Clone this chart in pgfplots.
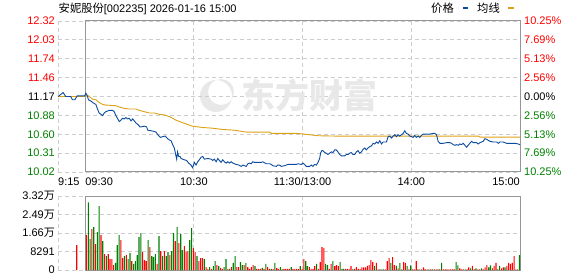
\documentclass[border=0pt]{standalone}
\usepackage{pgfplots}
\pgfplotsset{compat=1.18}
\usepackage{fontspec}
\setmainfont{Liberation Sans}
\newfontfamily\cjk{Noto Sans CJK SC}
\definecolor{pblue}{RGB}{10,75,160}
\definecolor{porange}{RGB}{222,160,20}
\definecolor{ured}{RGB}{255,0,0}
\definecolor{dgreen}{RGB}{0,128,0}
\definecolor{gridc}{RGB}{205,205,205}
\definecolor{framec}{RGB}{150,150,150}
\definecolor{wmark}{RGB}{232,232,232}
\begin{document}
\begin{tikzpicture}[x=1pt,y=1pt]
\useasboundingbox (0,0) rectangle (578,276);
\fontsize{11}{13}\selectfont
% title and legend
\node[anchor=base west,inner sep=0pt] at (58.5,263) {{\cjk\fontsize{11.3}{13}\selectfont 安妮股份}[002235] 2026-01-16 15:00};
\node[anchor=base west,inner sep=0pt] at (431,263) {\cjk\fontsize{11.3}{13}\selectfont 价格};
\fill[pblue] (462.5,266.6) rectangle (468,269);
\node[anchor=base west,inner sep=0pt] at (477,263) {\cjk\fontsize{11.3}{13}\selectfont 均线};
\fill[porange] (508,266.6) rectangle (513.5,269);
% watermark icon
\fill[wmark, even odd rule] (216,180) circle (16) (221,184) circle (13);
% ---------------- price axis
\begin{axis}[at={(58pt,104pt)}, anchor=south west, scale only axis,
  width=462pt, height=151pt,
  xmin=-15, xmax=240, ymin=10.025, ymax=12.315,
  axis line style={draw=none},
  xtick={-15,60,120,180}, xticklabels={},
  ytick={10.025,10.31125,10.5975,10.88375,11.17,11.45625,11.7425,12.02875,12.315},
  yticklabels={},
  major tick length=0pt,
  grid=major,
  major grid style={gridc, dash pattern=on 4pt off 3pt, line width=0.9pt},
  clip=false]
\node[text=wmark, font=\cjk\bfseries\fontsize{34}{34}\selectfont, anchor=center] at (axis cs:124,11.18) {东方财富};
\draw[framec, line width=1pt] (axis cs:0,10.025) rectangle (axis cs:240,12.315);
% average line
\addplot[porange, line width=0.9pt] coordinates {
(-15,11.17) (-0.3,11.17) (0,11.19) (1.3,11.19) (2.2,11.17) (4.1,11.13) (5.9,11.12) (7.7,11.08) (9.6,11.05) (11.4,11.04) (17.0,11.03) (18.8,11.01) (21.6,10.99) (24.3,10.98) (28.0,10.98) (29.9,10.96) (32.6,10.94) (35.4,10.92) (38.2,10.92) (40.9,10.90) (43.7,10.89) (47,10.86) (50.2,10.81) (55,10.76) (59.2,10.72) (64.7,10.70) (70,10.69) (75.9,10.67) (82,10.66) (88.9,10.63) (95,10.63) (101.8,10.63) (102.7,10.61) (117.4,10.61) (128.5,10.575) (137.7,10.57) (216.8,10.57) (217.9,10.555) (240,10.555)
};
% price line
\addplot[pblue, line width=0.9pt] coordinates {
(-15,11.17) (-13.5,11.20) (-12.2,11.23) (-10.7,11.17) (-8,11.17) (-7,11.12) (-5.7,11.12) (-4.4,11.18) (-0.3,11.18) (0.4,11.22) (1.3,11.17) (1.8,11.12) (3.2,11.10) (4.6,11.07) (5.9,11.05) (6.8,10.98) (7.7,10.92) (8.7,10.90) (9.6,10.88) (10.5,10.92) (11.4,10.94) (13.3,10.96) (15.1,10.96) (16.0,10.94) (17.0,10.88) (18.8,10.79) (19.7,10.81) (20.6,10.84) (21.6,10.83) (22.5,10.85) (23.4,10.83) (24.3,10.84) (25.3,10.80) (26.2,10.83) (27.1,10.80) (28.0,10.77) (29.3,10.74) (30.2,10.71) (31.1,10.71) (32.6,10.72) (33.9,10.71) (34.5,10.66) (36.3,10.65) (38.2,10.64) (39.1,10.63) (40.4,10.58) (41.5,10.55) (42.7,10.56) (44.2,10.57) (45.5,10.53) (46.5,10.51) (47.4,10.50) (48.3,10.44) (49.2,10.39) (49.8,10.31) (50.5,10.22) (51.0,10.33) (51.6,10.26) (52.4,10.26) (52.9,10.23) (54.7,10.21) (56.0,10.20) (57.1,10.16) (58.4,10.13) (59.3,10.09) (60.3,10.17) (61.2,10.13) (62.1,10.18) (63.0,10.21) (64.0,10.25) (64.9,10.26) (65.8,10.22) (67.6,10.23) (69.5,10.22) (70.4,10.20) (71.3,10.22) (72.3,10.18) (73.2,10.23) (74.1,10.20) (75.0,10.17) (75.9,10.21) (76.9,10.18) (77.8,10.16) (78.7,10.18) (79.6,10.16) (80.6,10.18) (81.5,10.16) (82.4,10.15) (83.3,10.14) (84.8,10.13) (86.1,10.11) (87.0,10.13) (87.9,10.12) (88.9,10.11) (89.8,10.15) (90.7,10.16) (91.6,10.15) (92.5,10.18) (93.5,10.17) (95.3,10.17) (97.2,10.17) (98.0,10.18) (99.9,10.15) (101.8,10.15) (102.7,10.14) (103.5,10.12) (105.5,10.11) (106.3,10.13) (107.3,10.13) (108.2,10.11) (110.0,10.12) (111.9,10.14) (116.5,10.14) (117.4,10.15) (119.3,10.14) (120.2,10.16) (121.1,10.14) (122.0,10.11) (123.9,10.11) (124.8,10.13) (125.7,10.11) (126.6,10.14) (127.6,10.13) (128.5,10.17) (129.4,10.23) (130.0,10.32) (130.7,10.35) (131.2,10.35) (132.2,10.32) (133.1,10.31) (134.0,10.29) (134.9,10.31) (135.9,10.33) (136.8,10.32) (137.7,10.36) (138.6,10.36) (139.5,10.33) (140.5,10.29) (141.4,10.27) (143.2,10.27) (144.2,10.29) (145.1,10.29) (146.0,10.31) (146.9,10.32) (147.8,10.29) (148.8,10.29) (149.7,10.33) (150.6,10.35) (151.5,10.31) (152.5,10.33) (153.4,10.37) (154.3,10.39) (155.2,10.36) (156.1,10.39) (157.1,10.41) (158.0,10.42) (158.9,10.46) (159.8,10.45) (160.8,10.48) (161.7,10.46) (162.6,10.50) (163.5,10.45) (164.4,10.48) (166.3,10.48) (167.2,10.56) (168.1,10.57) (169.1,10.54) (170.0,10.57) (170.9,10.59) (171.8,10.56) (172.7,10.59) (173.6,10.57) (174.6,10.59) (175.5,10.61) (176.4,10.65) (177.3,10.61) (178.2,10.60) (179.2,10.57) (180.1,10.56) (181.0,10.55) (181.9,10.58) (182.8,10.55) (183.8,10.57) (184.7,10.55) (185.6,10.58) (186.5,10.60) (189.3,10.60) (190.2,10.60) (192.1,10.61) (193.0,10.61) (193.9,10.59) (194.8,10.49) (195.8,10.46) (197.6,10.46) (199.5,10.47) (201.3,10.47) (202.2,10.46) (203.1,10.44) (204.1,10.43) (205.0,10.44) (205.9,10.43) (206.8,10.45) (207.7,10.44) (208.7,10.46) (209.6,10.43) (210.5,10.40) (211.4,10.43) (212.3,10.46) (213.3,10.49) (214.2,10.47) (216.0,10.47) (216.9,10.45) (217.9,10.47) (219.7,10.49) (220.6,10.53) (221.6,10.52) (223.4,10.49) (225.2,10.48) (227.1,10.48) (228.0,10.46) (228.9,10.48) (230.7,10.48) (232.6,10.46) (235.4,10.46) (237.2,10.46) (239.0,10.45) (240,10.44)
};
% left labels
\begin{scope}[every node/.style={anchor=east, inner sep=0pt, xshift=-3pt}]
\node[text=ured] at (axis cs:-15,12.315) {12.32};
\node[text=ured] at (axis cs:-15,12.02875) {12.03};
\node[text=ured] at (axis cs:-15,11.7425) {11.74};
\node[text=ured] at (axis cs:-15,11.45625) {11.46};
\node[text=black] at (axis cs:-15,11.17) {11.17};
\node[text=dgreen] at (axis cs:-15,10.88375) {10.88};
\node[text=dgreen] at (axis cs:-15,10.5975) {10.60};
\node[text=dgreen] at (axis cs:-15,10.31125) {10.31};
\node[text=dgreen] at (axis cs:-15,10.025) {10.02};
\end{scope}
% right labels
\begin{scope}[every node/.style={anchor=west, inner sep=0pt, xshift=4pt}]
\node[text=ured] at (axis cs:240,12.315) {10.25\%};
\node[text=ured] at (axis cs:240,12.02875) {7.69\%};
\node[text=ured] at (axis cs:240,11.7425) {5.13\%};
\node[text=ured] at (axis cs:240,11.45625) {2.56\%};
\node[text=black] at (axis cs:240,11.17) {0.00\%};
\node[text=dgreen] at (axis cs:240,10.88375) {2.56\%};
\node[text=dgreen] at (axis cs:240,10.5975) {5.13\%};
\node[text=dgreen] at (axis cs:240,10.31125) {7.69\%};
\node[text=dgreen] at (axis cs:240,10.025) {10.25\%};
\end{scope}
% time labels
\begin{scope}[every node/.style={inner sep=0pt, yshift=-13pt}]
\node[anchor=base west] at (axis cs:-15,10.025) {9:15};
\node[anchor=base west] at (axis cs:0,10.025) {09:30};
\node[anchor=base] at (axis cs:60,10.025) {10:30};
\node[anchor=base] at (axis cs:120,10.025) {11:30/13:00};
\node[anchor=base] at (axis cs:180,10.025) {14:00};
\node[anchor=base east] at (axis cs:240,10.025) {15:00};
\end{scope}
\end{axis}
% ---------------- volume axis
\begin{axis}[at={(58pt,6pt)}, anchor=south west, scale only axis,
  width=462pt, height=74pt,
  xmin=-15, xmax=240, ymin=0, ymax=33164,
  scaled y ticks=false,
  axis line style={draw=none},
  xtick={-15,60,120,180}, xticklabels={},
  ytick={0,8291,16582,24873,33164}, yticklabels={},
  major tick length=0pt,
  grid=major,
  major grid style={gridc, dash pattern=on 4pt off 3pt, line width=0.9pt},
  clip=false]
\draw[framec, line width=1pt] (axis cs:0,0) rectangle (axis cs:240,33164);
\addplot[ybar, bar width=1.1pt, bar shift=-0.5pt, fill=ured, draw=none] coordinates {
(-4.4,11200)
(1,15680) (4,18370) (6,11650) (9,15680) (11,7170) (13,7170) (14,4930) (15,4930) (16,2240) (20,13440) (21,5375) (23,6720) (26,4030) (32,8060) (33,4480) (34,4030) (36,10300) (40,2690) (42,8510) (44,8510) (47,6720) (50,12990) (52,12090) (55,10750) (56,8060) (57,8510) (60,9850) (61,8060) (63,4030) (64,5375) (65,5375)
(67,1340) (68,450) (70,450) (73,2240) (75,900) (76,450) (79,450) (81,1340) (84,1340) (85,1340) (88,2240) (90,1340) (91,450) (92,1340) (93,2240) (95,450) (96,450) (97,450) (99,450) (101,1340) (102,450) (104,450) (106,900) (107,450) (110,450) (111,450) (112,450) (113,450) (115,450) (116,450) (117,450) (118,450) (120,450) (121,4930) (124,1340) (125,450) (126,450) (127,1790) (129,450) (130,3580) (131,10300) (132,9850) (135,450) (136,2690) (138,1790) (139,2240) (140,1790) (144,450) (145,450) (146,450) (147,1790) (149,450) (150,1340) (151,450) (152,450)
(153,1200) (154,1200) (155,1200) (156,1800) (157,2240) (158,4480) (159,3580) (161,3140) (163,300) (166,300) (167,4030) (168,5375) (170,5820) (171,2240) (173,750) (176,3580) (177,3140) (179,300) (181,300) (182,300) (183,4030) (185,300) (187,1200) (188,300) (189,300) (191,300) (193,300) (194,300) (196,300) (198,300) (199,300) (200,300) (201,300) (202,300) (203,300) (204,300) (207,750) (208,300) (209,300) (211,300) (212,1200) (214,1800) (215,300) (217,300) (218,300) (220,300) (221,1200) (222,2240) (225,750) (226,1800) (227,3140) (230,750) (231,1200) (233,1800) (234,3140) (235,2690) (236,3140) (237,6270) (239,300)
};
\addplot[ybar, bar width=1.1pt, bar shift=-0.5pt, fill=dgreen, draw=none] coordinates {
(2,30300) (3,13890) (5,19260) (7,17020) (8,28670) (10,12990) (12,6270) (17,3140) (18,11200) (19,15680) (22,6270) (24,4930) (25,7610) (27,2690) (28,4030) (29,6720) (30,14780) (31,16570) (35,13440) (37,6270) (38,5820) (39,7170) (41,15230) (43,6270) (45,6270) (46,8060) (48,8510) (49,16570) (51,19260) (53,16120) (54,8960) (58,13440) (59,18810) (62,6270) (66,4930)
(69,1340) (71,1790) (72,4030) (74,1790) (77,1340) (78,4930) (80,450) (82,3140) (83,6270) (86,3580) (87,2240) (89,3140) (94,1790) (98,900) (100,2690) (103,450) (105,3140) (108,1340) (109,450) (114,1340) (119,1790) (122,4030) (123,1790) (128,2690) (133,2690) (134,2240) (137,4030) (141,3580) (142,450) (143,450) (148,450)
(160,1800) (162,300) (164,300) (165,300) (169,3140) (172,1800) (174,3140) (175,300) (178,1800) (180,2100) (184,300) (186,300) (190,300) (192,300) (195,300) (197,3140) (205,3580) (206,2100) (210,300) (213,750) (216,750) (219,750) (223,1200) (224,2100) (228,300) (229,1800) (232,1200) (238,300) (240,6720)
};
\begin{scope}[every node/.style={anchor=east, inner sep=0pt, xshift=-3pt}]
\node at (axis cs:-15,0) {0};
\node at (axis cs:-15,8291) {8291};
\node at (axis cs:-15,16582) {1.66{\cjk 万}};
\node at (axis cs:-15,24873) {2.49{\cjk 万}};
\node at (axis cs:-15,33164) {3.32{\cjk 万}};
\end{scope}
\end{axis}
\end{tikzpicture}
\end{document}
